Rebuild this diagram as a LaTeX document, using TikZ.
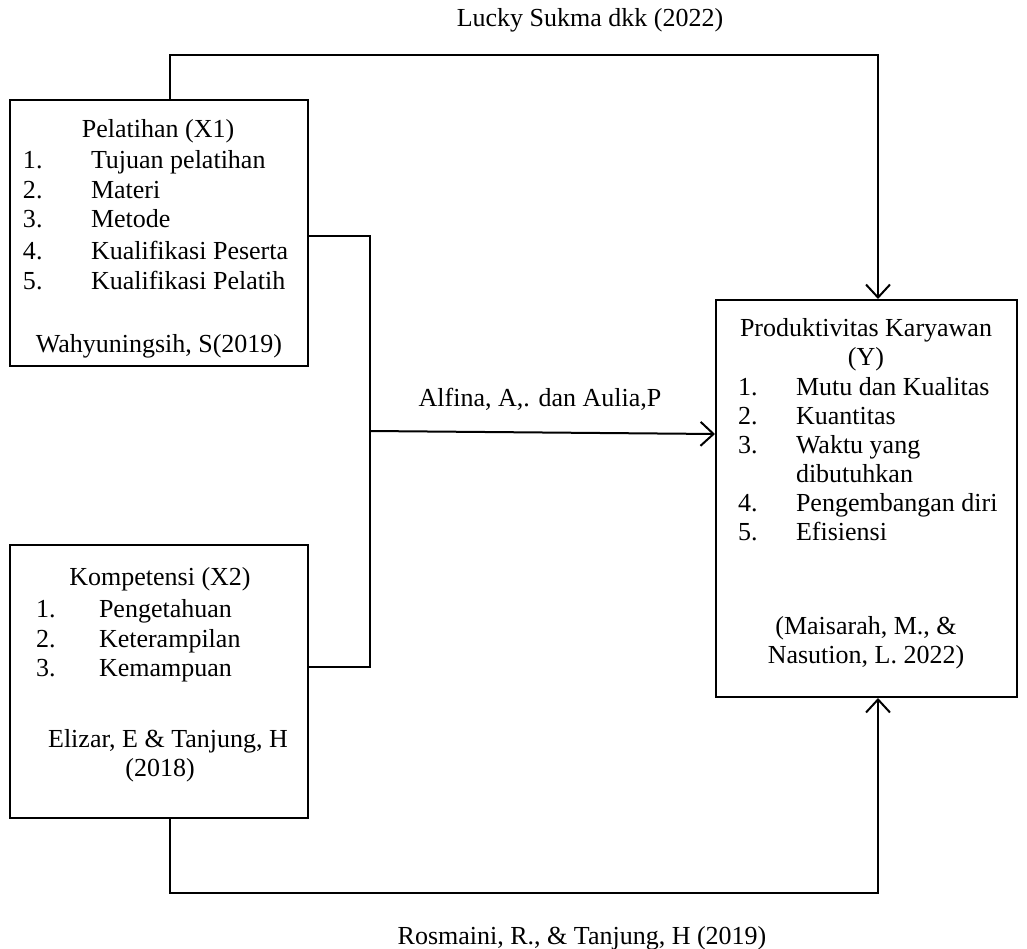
\documentclass[tikz,border=0pt]{standalone}
\usepackage{fontspec}
\setmainfont{Liberation Serif}
\usetikzlibrary{arrows.meta}
\begin{document}
\begin{tikzpicture}[x=1pt,y=-1pt,line width=2pt,
  box/.style={draw,line width=2pt,inner sep=0pt},
  txt/.style={inner sep=0pt,yshift=-6pt,font=\fontsize{26}{30}\selectfont},
  lw/.style={txt,anchor=mid west},
  lc/.style={txt,anchor=mid},
  arr/.style={-{Straight Barb[length=13pt,width=24pt,line width=2pt]}}]
\useasboundingbox (0,0) rectangle (1027,949);
% boxes
\node[box,minimum width=298pt,minimum height=266pt] (b1) at (159,233) {};
\node[box,minimum width=298pt,minimum height=273pt] (b2) at (159,681.5) {};
\node[box,minimum width=301pt,minimum height=397pt] (b3) at (866.5,498.5) {};
% box 1 text
\node[lc] (t1) at (158,129) {Pelatihan (X1)};
\node[lw] (n11) at (22,160) {1.};
\node[lw] (i11) at (90,160) {Tujuan pelatihan};
\node[lw] (n12) at (22,190) {2.};
\node[lw] (i12) at (90,190) {Materi};
\node[lw] (n13) at (22,219) {3.};
\node[lw] (i13) at (90,219) {Metode};
\node[lw] (n14) at (22,251) {4.};
\node[lw] (i14) at (90,251) {Kualifikasi Peserta};
\node[lw] (n15) at (22,281) {5.};
\node[lw] (i15) at (90,281) {Kualifikasi Pelatih};
\node[lc] (r1) at (159,344) {Wahyuningsih, S(2019)};
% box 2 text
\node[lc] (t2) at (160,577) {Kompetensi (X2)};
\node[lw] (n21) at (35,609) {1.};
\node[lw] (i21) at (98,609) {Pengetahuan};
\node[lw] (n22) at (35,639) {2.};
\node[lw] (i22) at (98,639) {Keterampilan};
\node[lw] (n23) at (35,668) {3.};
\node[lw] (i23) at (98,668) {Kemampuan};
\node[lc] (r2a) at (168,739) {Elizar, E \& Tanjung, H};
\node[lc] (r2b) at (160,768) {(2018)};
% box 3 text
\node[lc] (t3a) at (866,328) {Produktivitas Karyawan};
\node[lc] (t3b) at (866,357) {(Y)};
\node[lw] (n31) at (737,387) {1.};
\node[lw] (i31) at (795,387) {Mutu dan Kualitas};
\node[lw] (n32) at (737,416) {2.};
\node[lw] (i32) at (795,416) {Kuantitas};
\node[lw] (n33) at (737,445) {3.};
\node[lw] (i33) at (795,445) {Waktu yang};
\node[lw] (i33b) at (795,474) {dibutuhkan};
\node[lw] (n34) at (737,503) {4.};
\node[lw] (i34) at (795,503) {Pengembangan diri};
\node[lw] (n35) at (737,532) {5.};
\node[lw] (i35) at (795,532) {Efisiensi};
\node[lc] (r3a) at (866,626) {(Maisarah, M., \&};
\node[lc] (r3b) at (866,655) {Nasution, L. 2022)};
% connector labels
\node[lc] (lt) at (590,18) {Lucky Sukma dkk (2022)};
\node[lc] (lm) at (540,398) {Alfina, A,. dan Aulia,P};
\node[lc] (lb) at (582,936) {Rosmaini, R., \& Tanjung, H (2019)};
% connector points
\coordinate (tL) at (170,55);
\coordinate (tR) at (878,55);
\coordinate (brT) at (370,236);
\coordinate (brB) at (370,667);
\coordinate (mS) at (370,431);
\coordinate (mE) at (716,434);
\coordinate (bL) at (170,893);
\coordinate (bR) at (878,893);
% connectors
\draw[arr] (b1.north -| tL) -- (tL) -- (tR) -- (b3.north -| tR);
\draw (b1.east |- brT) -- (brT) -- (brB) -- (b2.east |- brB);
\draw[arr] (mS) -- (b3.west |- mE);
\draw[arr] (b2.south -| bL) -- (bL) -- (bR) -- (b3.south -| bR);
\end{tikzpicture}
\end{document}
